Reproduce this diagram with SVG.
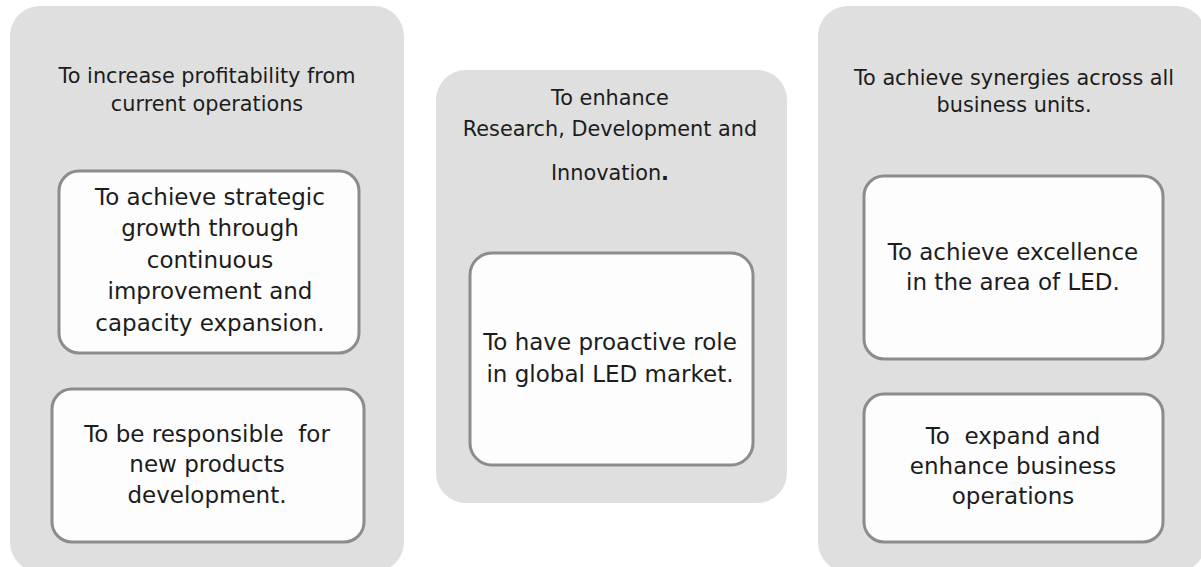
<svg xmlns="http://www.w3.org/2000/svg" width="1201" height="567" viewBox="0 0 1201 567">
<style>
.panel{fill:#dfdfdf;}
.box{fill:#fdfdfd;stroke:#8c8c8c;stroke-width:3;}
text{font-family:"DejaVu Sans","Liberation Sans",sans-serif;fill:#1c1c1c;text-anchor:middle;white-space:pre;}
.h{font-size:20.8px;}
.t{font-size:23px;}
</style>
<rect width="1201" height="567" fill="#ffffff"/>
<g id="panel-profitability">
<rect class="panel" x="10" y="6" width="394" height="566" rx="30"/>
<text class="h" x="207" y="83">To increase profitability from</text>
<text class="h" x="207" y="111">current operations</text>
</g>
<g id="box-growth">
<rect class="box" x="59" y="171" width="300" height="182" rx="20"/>
<text class="t" x="210" y="205">To achieve strategic</text>
<text class="t" x="210" y="236">growth through</text>
<text class="t" x="210" y="268">continuous</text>
<text class="t" x="210" y="299">improvement and</text>
<text class="t" x="210" y="331">capacity expansion.</text>
</g>
<g id="box-newproducts">
<rect class="box" x="52" y="389" width="312" height="153" rx="20"/>
<text class="t" x="207" y="442">To be responsible  for</text>
<text class="t" x="207" y="472">new products</text>
<text class="t" x="207" y="503">development.</text>
</g>
<g id="panel-research">
<rect class="panel" x="436" y="70" width="351" height="433" rx="30"/>
<text class="h" x="610" y="105">To enhance</text>
<text class="h" x="610" y="136">Research, Development and</text>
<text class="h" x="610" y="180">Innovation<tspan font-weight="bold">.</tspan></text>
</g>
<g id="box-proactive">
<rect class="box" x="470" y="253" width="283" height="212" rx="22"/>
<text class="t" x="610" y="350">To have proactive role</text>
<text class="t" x="610" y="382">in global LED market.</text>
</g>
<g id="panel-synergies">
<rect class="panel" x="818" y="6" width="388" height="566" rx="30"/>
<text class="h" x="1014" y="85">To achieve synergies across all</text>
<text class="h" x="1014" y="112">business units.</text>
</g>
<g id="box-led">
<rect class="box" x="864" y="176" width="299" height="183" rx="20"/>
<text class="t" x="1013" y="260">To achieve excellence</text>
<text class="t" x="1013" y="290">in the area of LED.</text>
</g>
<g id="box-expand">
<rect class="box" x="864" y="394" width="299" height="148" rx="20"/>
<text class="t" x="1013" y="444">To  expand and</text>
<text class="t" x="1013" y="474">enhance business</text>
<text class="t" x="1013" y="504">operations</text>
</g>
<g id="connectors"></g>
</svg>
